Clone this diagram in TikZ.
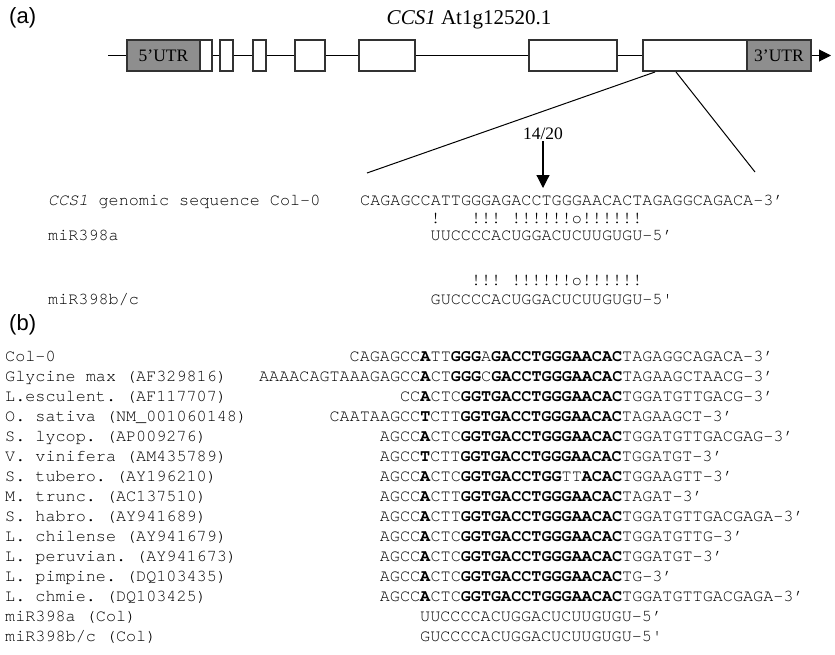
\documentclass[tikz,border=0pt]{standalone}
\usepackage{fontspec}
\setmainfont{Liberation Serif}
\setmonofont{texgyrecursor}[Extension=.otf, UprightFont=*-regular, BoldFont=*-bold, ItalicFont=*-italic, BoldItalicFont=*-bolditalic]
\newfontfamily\labfont{Liberation Sans}
\usetikzlibrary{arrows.meta}
\definecolor{utrgray}{RGB}{142,142,142}
\definecolor{boxline}{RGB}{50,50,50}
\newcommand{\B}[1]{\textbf{#1}}
\begin{document}
\begin{tikzpicture}[x=1pt,y=-1pt,
  seqtext/.style={font=\ttfamily\fontsize{16.8}{16.8}\selectfont, anchor=base west, inner sep=0pt, text=black},
  exon/.style={draw=boxline, line width=1.1pt, fill=white, minimum height=31pt, inner sep=0pt},
  utr/.style={exon, fill=utrgray, font=\fontsize{17.5}{17.5}\selectfont},
  backbone/.style={line width=1pt, black},
  zoomline/.style={line width=1pt, black},
  panel/.style={font=\labfont\fontsize{22}{22}\selectfont, anchor=west, inner sep=0pt}
]
\useasboundingbox (0,0) rectangle (835,654);

% panel labels
\node[panel] (pa) at (9,18) {(a)};
\node[panel] (pb) at (9,325) {(b)};

% title
\node[anchor=base, inner sep=0pt, font=\fontsize{21}{21}\selectfont] (title) at (469,24.5) {\textit{CCS1} At1g12520.1};

% gene model
\coordinate (g0) at (108,55.5);
\node[utr, minimum width=73pt] (u5) at (163.5,55.5) {5’UTR};
\node[exon, minimum width=12pt] (e1) at (206,55.5) {};
\node[exon, minimum width=13pt] (e2) at (226.5,55.5) {};
\node[exon, minimum width=13pt] (e3) at (259.5,55.5) {};
\node[exon, minimum width=30pt] (e4) at (310,55.5) {};
\node[exon, minimum width=56pt] (e5) at (387,55.5) {};
\node[exon, minimum width=88pt] (e6) at (573,55.5) {};
\node[exon, minimum width=104pt] (e7) at (695,55.5) {};
\node[utr, minimum width=64pt] (u3) at (779,55.5) {3’UTR};
\coordinate (gend) at (831,55.5);

\draw[backbone] (g0) -- (u5.west);
\draw[backbone] (e1.east) -- (e2.west);
\draw[backbone] (e2.east) -- (e3.west);
\draw[backbone] (e3.east) -- (e4.west);
\draw[backbone] (e4.east) -- (e5.west);
\draw[backbone] (e5.east) -- (e6.west);
\draw[backbone] (e6.east) -- (e7.west);
\draw[backbone, -{Triangle[length=12pt,width=12pt]}] (u3.east) -- (gend);

% zoom lines
\coordinate (z1a) at (655,72);
\coordinate (z1b) at (367,173);
\coordinate (z2a) at (676,72);
\coordinate (z2b) at (755,172);
\draw[zoomline] (z1a) -- (z1b);
\draw[zoomline] (z2a) -- (z2b);

% cleavage arrow
\node[anchor=base, inner sep=0pt, font=\fontsize{17.5}{17.5}\selectfont] (cut) at (543,139) {14/20};
\coordinate (cuttip) at (543,188);
\draw[line width=1.2pt, -{Triangle[length=13pt,width=13pt]}] (cut.south) ++(0,2) -- (cuttip);

% part (a) alignment
\node[seqtext] (la1) at (48,205.5) {\textit{CCS1} genomic sequence Col-0};
\node[seqtext] (la2) at (48,240.5) {miR398a};
\node[seqtext] (la3) at (48,304) {miR398b/c};

\node[seqtext] (sa1) at (360,205.5) {CAGAGCCATTGGGAGACCTGGGAACACTAGAGGCAGACA-3’};
\node[seqtext] (sa2) at (430.5,223) {!\hphantom{!!!}!!!\hphantom{!}!!!!!!o!!!!!!};
\node[seqtext] (sa3) at (430.5,240.5) {UUCCCCACUGGACUCUUGUGU-5’};
\node[seqtext] (sa4) at (470.8,285.5) {!!!\hphantom{!}!!!!!!o!!!!!!};
\node[seqtext] (sa5) at (430.5,304) {GUCCCCACUGGACUCUUGUGU-5'};

% part (b) alignment
\foreach \i/\lab in {0/{Col-0}, 1/{Glycine max (AF329816)}, 2/{L.esculent. (AF117707)}, 3/{O. sativa (NM\_001060148)}, 4/{S. lycop. (AP009276)}, 5/{V. vinifera (AM435789)}, 6/{S. tubero. (AY196210)}, 7/{M. trunc. (AC137510)}, 8/{S. habro. (AY941689)}, 9/{L. chilense (AY941679)}, 10/{L. peruvian. (AY941673)}, 11/{L. pimpine. (DQ103435)}, 12/{L. chmie. (DQ103425)}, 13/{miR398a (Col)}, 14/{miR398b/c (Col)}}
  \node[seqtext] (lb\i) at (5,{361.7+\i*20}) {\lab};

\node[seqtext] (sb0) at (349.5,361.7) {CAGAGCC\B{A}TT\B{GGG}A\B{GACCTGGGAACAC}TAGAGGCAGACA-3’};
\node[seqtext] (sb1) at (258.9,381.7) {AAAACAGTAAAGAGCC\B{A}CT\B{GGG}C\B{GACCTGGGAACAC}TAGAAGCTAACG-3’};
\node[seqtext] (sb2) at (399.9,401.7) {CC\B{A}CTC\B{GGTGACCTGGGAACAC}TGGATGTTGACG-3’};
\node[seqtext] (sb3) at (329.4,421.7) {CAATAAGCC\B{T}CTT\B{GGTGACCTGGGAACAC}TAGAAGCT-3’};
\node[seqtext] (sb4) at (379.7,441.7) {AGCC\B{A}CTC\B{GGTGACCTGGGAACAC}TGGATGTTGACGAG-3’};
\node[seqtext] (sb5) at (379.7,461.7) {AGCC\B{T}CTT\B{GGTGACCTGGGAACAC}TGGATGT-3’};
\node[seqtext] (sb6) at (379.7,481.7) {AGCC\B{A}CTC\B{GGTGACCTGG}TT\B{ACAC}TGGAAGTT-3’};
\node[seqtext] (sb7) at (379.7,501.7) {AGCC\B{A}CTT\B{GGTGACCTGGGAACAC}TAGAT-3’};
\node[seqtext] (sb8) at (379.7,521.7) {AGCC\B{A}CTT\B{GGTGACCTGGGAACAC}TGGATGTTGACGAGA-3’};
\node[seqtext] (sb9) at (379.7,541.7) {AGCC\B{A}CTC\B{GGTGACCTGGGAACAC}TGGATGTTG-3’};
\node[seqtext] (sb10) at (379.7,561.7) {AGCC\B{A}CTC\B{GGTGACCTGGGAACAC}TGGATGT-3’};
\node[seqtext] (sb11) at (379.7,581.7) {AGCC\B{A}CTC\B{GGTGACCTGGGAACAC}TG-3’};
\node[seqtext] (sb12) at (379.7,601.7) {AGCC\B{A}CTC\B{GGTGACCTGGGAACAC}TGGATGTTGACGAGA-3’};
\node[seqtext] (sb13) at (420,621.7) {UUCCCCACUGGACUCUUGUGU-5’};
\node[seqtext] (sb14) at (420,641.7) {GUCCCCACUGGACUCUUGUGU-5'};
\end{tikzpicture}
\end{document}
